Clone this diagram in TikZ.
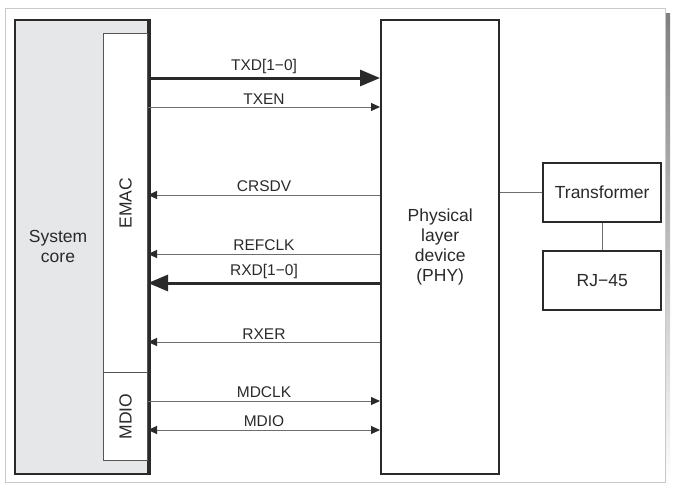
\documentclass[tikz,border=0pt]{standalone}
\usepackage{fontspec}
\setmainfont{Liberation Sans}
\usetikzlibrary{arrows.meta}
\definecolor{ink}{HTML}{2A2A2A}
\definecolor{wire}{HTML}{6E6E6E}
\definecolor{corefill}{HTML}{E6E7E8}
\definecolor{frameline}{HTML}{C9C9C9}
\definecolor{shade}{HTML}{D4D4D4}

\begin{document}
\begin{tikzpicture}[x=1pt, y=-1pt, line cap=butt, line join=miter,
  blk/.style={draw=ink, line width=2.4pt, fill=white, inner sep=0pt, anchor=north west},
  sub/.style={draw=ink!80, line width=1pt, fill=white, inner sep=0pt, anchor=north west},
  lbl/.style={font=\fontsize{17.5}{20}\selectfont, text=ink, align=center},
  sig/.style={midway, above, font=\fontsize{15.5}{18}\selectfont, text=ink, inner sep=2.5pt},
  thin/.style={wire, line width=1pt},
  bus/.style={ink, line width=3pt},
  tip/.style={-{Triangle[length=9pt, width=8pt, color=ink]}},
  twotip/.style={{Triangle[length=9pt, width=8pt, color=ink]}-{Triangle[length=9pt, width=8pt, color=ink]}},
  bigtip/.style={-{Triangle[length=20pt, width=16pt]}}]

\useasboundingbox (0,0) rectangle (675,493);

% ---------------- frame with shadow ----------------
\fill[shade] (10,13) rectangle (670,487);
\fill[white, draw=frameline, line width=1pt] (5,8) rectangle (665,482);

% ---------------- blocks ----------------
\node[blk, fill=corefill, minimum width=133pt, minimum height=454pt] (core) at (14,19) {};
\node[sub, minimum width=44pt, minimum height=339pt] (emac) at (103,33) {};
\node[sub, minimum width=44pt, minimum height=88pt] (mdio) at (103,372) {};
\draw[ink, line width=2.4pt] (core.north east) -- (core.south east);
\node[blk, minimum width=118pt, minimum height=454pt] (phy) at (380,19) {};
\node[blk, minimum width=118pt, minimum height=59pt] (trans) at (542,162) {};
\node[blk, minimum width=118pt, minimum height=59pt] (rj) at (542,250) {};

\node[lbl] (coretxt) at (58,246) {System\\core};
\node[lbl, rotate=90] (emactxt) at (emac.center) {EMAC};
\node[lbl, rotate=90] (mdiotxt) at (mdio.center) {MDIO};
\node[lbl, text width=100pt] (phytxt) at (phy.center) {Physical\\layer\\device\\(PHY)};
\node[lbl] (transtxt) at (trans.center) {Transformer};
\node[lbl] (rjtxt) at (rj.center) {RJ−45};

% ---------------- MAC to PHY signals ----------------
\draw[bus, bigtip] (emac.east |- 0,78) -- (phy.west |- 0,78) node[sig] {TXD[1−0]};
\draw[thin, tip] (emac.east |- 0,107) -- (phy.west |- 0,107) node[sig] {TXEN};
\draw[thin, tip] (phy.west |- 0,195) -- (emac.east |- 0,195) node[sig] {CRSDV};
\draw[thin, tip] (phy.west |- 0,254) -- (emac.east |- 0,254) node[sig] {REFCLK};
\draw[bus, bigtip] (phy.west |- 0,283) -- (emac.east |- 0,283) node[sig] {RXD[1−0]};
\draw[thin, tip] (phy.west |- 0,342) -- (emac.east |- 0,342) node[sig] {RXER};
\draw[thin, tip] (mdio.east |- 0,401) -- (phy.west |- 0,401) node[sig] {MDCLK};
\draw[thin, twotip] (mdio.east |- 0,430) -- (phy.west |- 0,430) node[sig] {MDIO};

% ---------------- line side ----------------
\draw[thin] (phy.east |- trans.west) -- (trans.west);
\draw[thin] (trans.south) -- (rj.north);

\end{tikzpicture}
\end{document}
